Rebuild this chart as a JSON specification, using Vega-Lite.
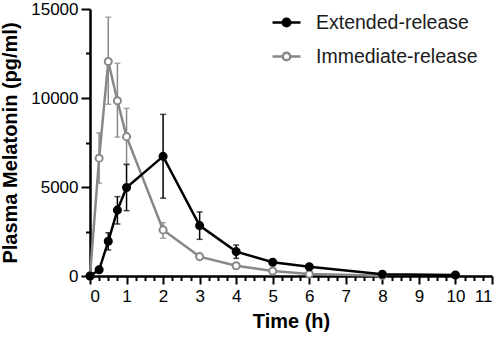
{
  "$schema": "https://vega.github.io/schema/vega-lite/v6.json",
  "width": 402,
  "height": 267,
  "autosize": {"type": "none"},
  "padding": {"left": 90, "top": 9, "right": 8, "bottom": 64},
  "config": {
    "font": "Liberation Sans",
    "view": {"stroke": null},
    "axis": {"grid": false, "domainColor": "#000", "tickColor": "#000", "labelColor": "#000", "titleColor": "#000", "domainWidth": 2.5, "tickWidth": 2}
  },
  "data": {"values": [
    {"series": "Immediate-release", "t": 0, "mean": 0, "lo": 0, "hi": 0},
    {"series": "Immediate-release", "t": 0.25, "mean": 6620, "lo": 5210, "hi": 8050},
    {"series": "Immediate-release", "t": 0.5, "mean": 12050, "lo": 9650, "hi": 14540},
    {"series": "Immediate-release", "t": 0.75, "mean": 9850, "lo": 7800, "hi": 11950},
    {"series": "Immediate-release", "t": 1, "mean": 7830, "lo": 6240, "hi": 9420},
    {"series": "Immediate-release", "t": 2, "mean": 2590, "lo": 2120, "hi": 3000},
    {"series": "Immediate-release", "t": 3, "mean": 1090, "lo": 950, "hi": 1230},
    {"series": "Immediate-release", "t": 4, "mean": 580, "lo": 480, "hi": 680},
    {"series": "Immediate-release", "t": 5, "mean": 280, "lo": 220, "hi": 340},
    {"series": "Immediate-release", "t": 6, "mean": 110, "lo": 70, "hi": 150},
    {"series": "Immediate-release", "t": 8, "mean": 20, "lo": 0, "hi": 40},
    {"series": "Extended-release", "t": 0, "mean": 0, "lo": 0, "hi": 0},
    {"series": "Extended-release", "t": 0.25, "mean": 350, "lo": 250, "hi": 450},
    {"series": "Extended-release", "t": 0.5, "mean": 1950, "lo": 1460, "hi": 2430},
    {"series": "Extended-release", "t": 0.75, "mean": 3700, "lo": 2920, "hi": 4460},
    {"series": "Extended-release", "t": 1, "mean": 4970, "lo": 3670, "hi": 6280},
    {"series": "Extended-release", "t": 2, "mean": 6720, "lo": 4370, "hi": 9080},
    {"series": "Extended-release", "t": 3, "mean": 2830, "lo": 2060, "hi": 3600},
    {"series": "Extended-release", "t": 4, "mean": 1370, "lo": 990, "hi": 1740},
    {"series": "Extended-release", "t": 5, "mean": 770, "lo": 650, "hi": 890},
    {"series": "Extended-release", "t": 6, "mean": 520, "lo": 420, "hi": 620},
    {"series": "Extended-release", "t": 8, "mean": 100, "lo": 60, "hi": 140},
    {"series": "Extended-release", "t": 10, "mean": 60, "lo": 30, "hi": 90}
  ]},
  "resolve": {"axis": {"x": "independent", "y": "independent"}},
  "layer": [
    {
      "mark": {"type": "errorbar", "ticks": {"size": 6}, "thickness": 1.5},
      "encoding": {
        "x": {"field": "t", "type": "quantitative", "scale": {"domain": [0, 11], "nice": false},
          "axis": {"orient": "bottom", "values": [0.25,0.5,0.75,1.25,1.5,1.75,2.25,2.5,2.75,3.25,3.5,3.75,4.25,4.5,4.75,5.25,5.5,5.75,6.25,6.5,6.75,7.25,7.5,7.75,8.25,8.5,8.75,9.25,9.5,9.75,10.25,10.5,10.75], "labels": false, "domain": false, "title": null, "tickSize": 4.5}},
        "y": {"field": "lo", "type": "quantitative", "scale": {"domain": [0, 15000], "nice": false},
          "axis": {"orient": "left", "values": [2500, 7500, 12500], "labels": false, "domain": false, "title": null, "tickSize": 4.5}},
        "y2": {"field": "hi"},
        "color": {"field": "series", "type": "nominal", "scale": {"range": ["#000000", "#888888"]}, "legend": null}
      }
    },
    {
      "mark": {"type": "line", "strokeWidth": 2.5},
      "encoding": {
        "x": {"field": "t", "type": "quantitative",
          "axis": {"orient": "bottom", "values": [0,1,2,3,4,5,6,7,8,9,10,11], "tickSize": 8, "labelFontSize": 17, "labelPadding": 4, "title": "Time (h)", "titleFontSize": 20, "titleFontWeight": "bold", "titlePadding": 7}},
        "y": {"field": "mean", "type": "quantitative",
          "axis": {"orient": "left", "values": [0, 5000, 10000, 15000], "format": "d", "tickSize": 9, "labelFontSize": 17, "labelPadding": 3, "title": "Plasma Melatonin (pg/ml)", "titleFontSize": 20, "titleFontWeight": "bold", "titlePadding": 10}},
        "color": {"field": "series", "type": "nominal", "legend": null}
      }
    },
    {
      "mark": {"type": "point", "shape": "circle", "size": 50, "strokeWidth": 2, "opacity": 1},
      "encoding": {
        "x": {"field": "t", "type": "quantitative", "axis": null},
        "y": {"field": "mean", "type": "quantitative", "axis": null},
        "stroke": {"field": "series", "type": "nominal", "scale": {"domain": ["Extended-release", "Immediate-release"], "range": ["#000000", "#888888"]},
          "legend": {"orient": "none", "legendX": 181, "legendY": -2, "title": null, "symbolType": "M-1,0H-0.27M0.27,0H1M0.27,0A0.27,0.27,0,1,1,-0.27,0A0.27,0.27,0,1,1,0.27,0Z", "symbolSize": 784, "symbolStrokeWidth": 2.5, "symbolOpacity": 1, "labelFontSize": 19.5, "labelColor": "#1a1a1a", "labelOffset": 14, "labelLimit": 300, "rowPadding": 9, "padding": 0}},
        "fill": {"field": "series", "type": "nominal", "scale": {"domain": ["Extended-release", "Immediate-release"], "range": ["#000000", "#ffffff"]},
          "legend": {"orient": "none", "legendX": 181, "legendY": -2, "title": null, "symbolType": "M-1,0H-0.27M0.27,0H1M0.27,0A0.27,0.27,0,1,1,-0.27,0A0.27,0.27,0,1,1,0.27,0Z", "symbolSize": 784, "symbolStrokeWidth": 2.5, "symbolOpacity": 1, "labelFontSize": 19.5, "labelColor": "#1a1a1a", "labelOffset": 14, "labelLimit": 300, "rowPadding": 9, "padding": 0}}
      }
    }
  ]
}
